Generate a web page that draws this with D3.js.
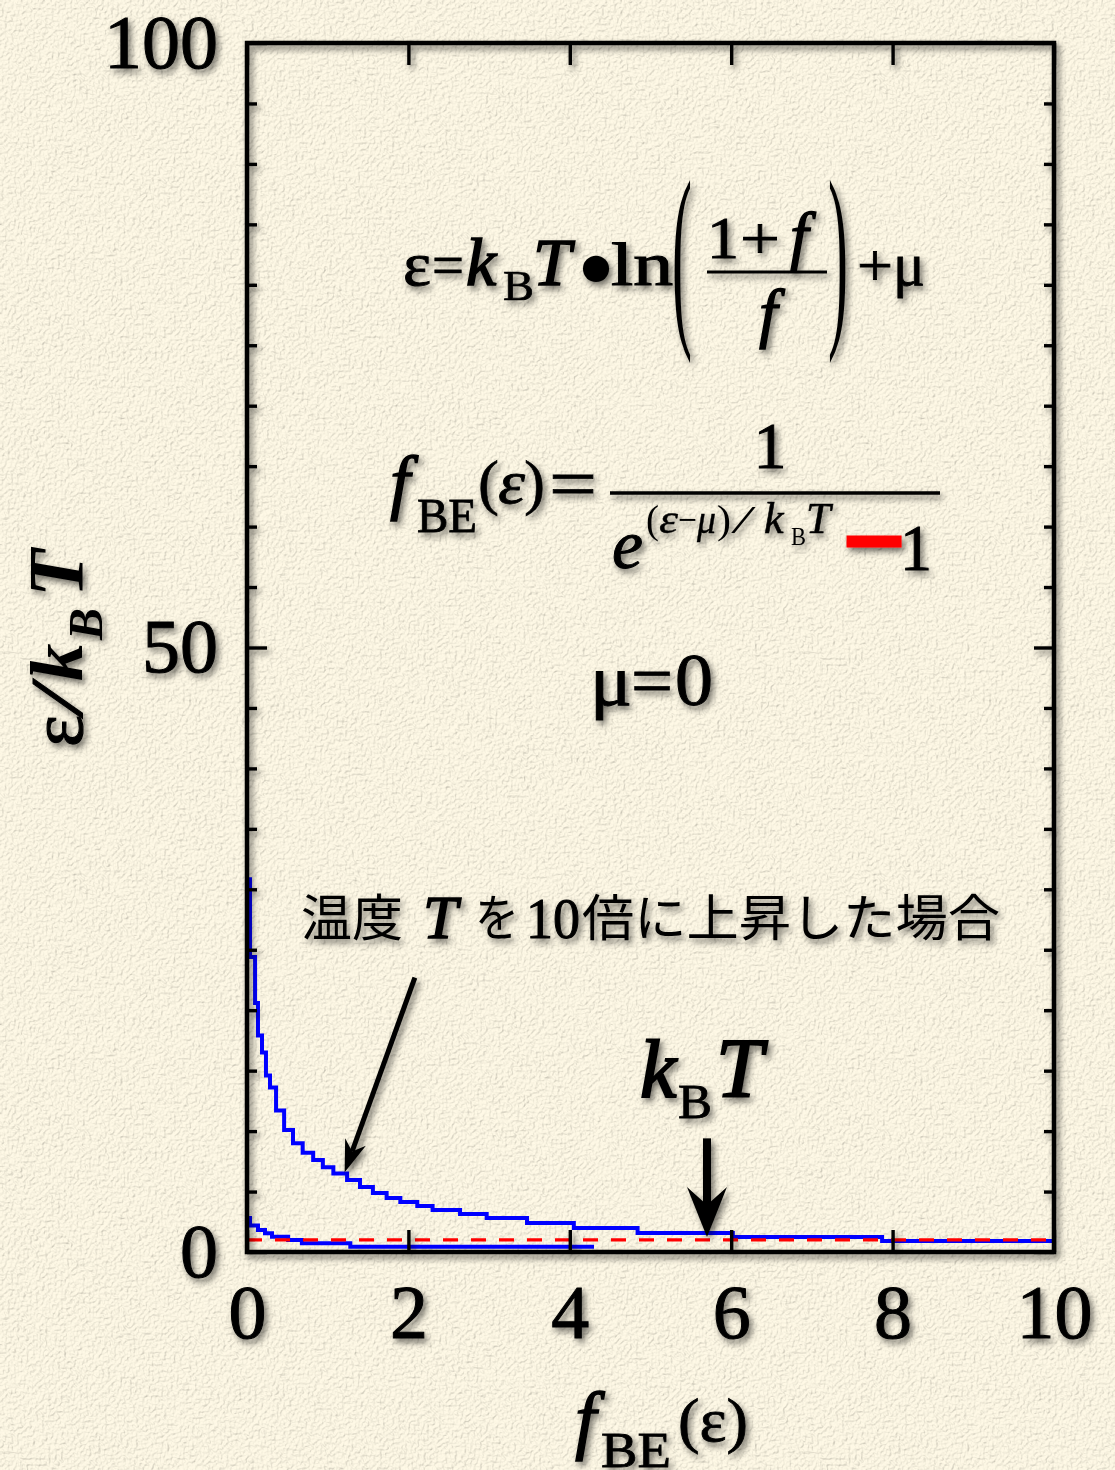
<!DOCTYPE html>
<html>
<head>
<meta charset="utf-8">
<script src="https://cdn.jsdelivr.net/npm/d3@7"></script>
<style>
  body { margin: 0; background: #f2ebd6; }
  svg { display: block; }
</style>
</head>
<body>
<div class="container-viewer"></div>
<script>
//* DATOS LEIDOS DE LA FIGURA *//
// curva escalonada con T x10: [f, eps/kBT] = inicio de cada tramo horizontal
const hotF = [0.037, 0.037, 0.10, 0.136, 0.186, 0.235, 0.285, 0.36, 0.46, 0.57, 0.69, 0.82, 0.94, 1.07,
  1.24, 1.40, 1.56, 1.73, 1.90, 2.11, 2.30, 2.64, 2.97, 3.47, 4.05, 4.84, 6.02, 7.87, 10.0];
const hotE = [31.0, 24.4, 20.6, 17.9, 16.5, 14.6, 13.6, 11.7, 10.1, 9.0, 8.2, 7.6, 7.0, 6.5,
  5.96, 5.38, 4.88, 4.47, 4.14, 3.80, 3.47, 3.14, 2.81, 2.40, 1.99, 1.57, 1.24, 0.91, 0.91];
// curva original (mu = 0)
const baseF = [0.037, 0.037, 0.136, 0.223, 0.31, 0.51, 0.68, 1.28, 4.30];
const baseE = [2.98, 2.20, 1.82, 1.55, 1.27, 0.99, 0.72, 0.44, 0.44];
// linea kBT (eps/kBT = 1)
const kTLevel = 1;

// ejes y etiquetas
const xTicks = [0, 2, 4, 6, 8, 10];
const yMajor = [0, 50, 100];
const yMinor = [5, 10, 15, 20, 25, 30, 35, 40, 45, 55, 60, 65, 70, 75, 80, 85, 90, 95];

// flechas (coordenadas en unidades de datos)
const arrowHot = { from: [2.08, 22.7], to: [1.21, 6.6] };
const arrowKT = { from: [5.7, 9.4], to: [5.7, 1.24] };

//-------------

const W = 1115, H = 1470;
const SERIF = "'Liberation Serif', 'Times New Roman', serif";
const CJK = "'Noto Sans CJK JP', sans-serif";

const x = d3.scaleLinear().domain([0, 10]).range([247, 1054]);
const y = d3.scaleLinear().domain([0, 100]).range([1252, 43]);

const svg = d3.select('.container-viewer').append('svg').attr('width', W).attr('height', H);
const defs = svg.append('defs');

// textura de papel
const paper = defs.append('filter').attr('id', 'paper').attr('x', 0).attr('y', 0).attr('width', '100%').attr('height', '100%');
paper.append('feTurbulence').attr('type', 'fractalNoise').attr('baseFrequency', 0.32).attr('numOctaves', 4).attr('seed', 7).attr('result', 'noise');
const light = paper.append('feDiffuseLighting').attr('in', 'noise').attr('lighting-color', '#fff9e6').attr('surfaceScale', 1.5).attr('result', 'lit');
light.append('feDistantLight').attr('azimuth', 225).attr('elevation', 74);

// sombra para textos y marco
const shadow = defs.append('filter').attr('id', 'shadow').attr('x', '-20%').attr('y', '-20%').attr('width', '140%').attr('height', '140%');
shadow.append('feDropShadow').attr('dx', 3).attr('dy', 4).attr('stdDeviation', 3.2).attr('flood-color', '#000').attr('flood-opacity', 0.55);

defs.append('clipPath').attr('id', 'plot').append('rect')
  .attr('x', x(0)).attr('y', y(100)).attr('width', x(10) - x(0)).attr('height', y(0) - y(100));

svg.append('rect').attr('width', W).attr('height', H).attr('fill', '#f2ebd6');
svg.append('rect').attr('width', W).attr('height', H).attr('filter', 'url(#paper)');

//* CURVAS *//
const line = d3.line().x((d) => x(d[0])).y((d) => y(d[1])).curve(d3.curveStepAfter);
const curves = svg.append('g').attr('clip-path', 'url(#plot)');

curves.append('path').datum(hotF.map((f, i) => [f, hotE[i]]))
  .attr('d', line).attr('fill', 'none').attr('stroke', '#0000ff').attr('stroke-width', 4);
curves.append('path').datum(baseF.map((f, i) => [f, baseE[i]]))
  .attr('d', line).attr('fill', 'none').attr('stroke', '#0000ff').attr('stroke-width', 4);
curves.append('line')
  .attr('x1', x(0)).attr('x2', x(10)).attr('y1', y(kTLevel)).attr('y2', y(kTLevel))
  .attr('stroke', '#ff0000').attr('stroke-width', 3.4).attr('stroke-dasharray', '15,13');

//* MARCO Y EJES *//
const frame = svg.append('g').attr('filter', 'url(#shadow)');

function styleAxis(g) {
  g.select('.domain').remove();
  g.selectAll('.tick line').attr('stroke', '#000').attr('stroke-width', 3.4);
  g.selectAll('.tick text').attr('font-family', SERIF).attr('font-size', 76).attr('fill', '#000')
    .attr('stroke', '#000').attr('stroke-width', 1);
}

frame.append('g').attr('transform', `translate(0,${y(0)})`)
  .call(d3.axisBottom(x).tickValues(xTicks).tickSize(-22).tickPadding(32).tickFormat(d3.format('d')))
  .call(styleAxis);
frame.append('g').attr('transform', `translate(0,${y(100)})`)
  .call(d3.axisTop(x).tickValues(xTicks).tickSize(-22).tickFormat(''))
  .call(styleAxis);
frame.append('g').attr('transform', `translate(${x(0)},0)`)
  .call(d3.axisLeft(y).tickValues(yMajor).tickSize(-20).tickPadding(29).tickFormat(d3.format('d')))
  .call(styleAxis);
frame.append('g').attr('transform', `translate(${x(0)},0)`)
  .call(d3.axisLeft(y).tickValues(yMinor).tickSize(-10).tickFormat(''))
  .call(styleAxis);
frame.append('g').attr('transform', `translate(${x(10)},0)`)
  .call(d3.axisRight(y).tickValues(yMajor).tickSize(-20).tickFormat(''))
  .call(styleAxis);
frame.append('g').attr('transform', `translate(${x(10)},0)`)
  .call(d3.axisRight(y).tickValues(yMinor).tickSize(-10).tickFormat(''))
  .call(styleAxis);

frame.append('rect')
  .attr('x', x(0)).attr('y', y(100)).attr('width', x(10) - x(0)).attr('height', y(0) - y(100))
  .attr('fill', 'none').attr('stroke', '#000').attr('stroke-width', 4.5);

//* TEXTOS *//
const txt = svg.append('g').attr('filter', 'url(#shadow)');

// pieza de texto: cadena, x, y, tamaño, opciones
function put(parent, str, px, py, size, o = {}) {
  const t = parent.append('text')
    .attr('x', px).attr('y', py)
    .attr('font-family', o.family || SERIF)
    .attr('font-size', size)
    .attr('font-style', o.i ? 'italic' : 'normal')
    .attr('font-weight', o.b ? 'bold' : 'normal')
    .attr('fill', o.fill || '#000')
    .attr('text-anchor', o.anchor || 'start')
    .text(str);
  if (o.len) t.attr('textLength', o.len).attr('lengthAdjust', 'spacingAndGlyphs');
  if (o.sw) t.attr('stroke', o.fill || '#000').attr('stroke-width', o.sw);
  return t;
}
function paren(parent, str, px, py, size, sy) {
  parent.append('text').attr('transform', `translate(${px},${py}) scale(1,${sy})`)
    .attr('font-family', SERIF).attr('font-size', size).text(str);
}

// ecuacion 1: eps = kBT . ln((1+f)/f) + mu
put(txt, 'ε', 403, 285, 62, { len: 28, sw: 1 });
put(txt, '=', 432, 285, 60, { len: 32, sw: 0.8 });
put(txt, 'k', 466, 285, 68, { i: 1, sw: 1.6 });
put(txt, 'B', 503, 300, 42, { len: 31, sw: 0.7 });
put(txt, 'T', 533, 285, 68, { i: 1, sw: 1.6 });
put(txt, '•', 596, 305, 110, { anchor: 'middle' });
put(txt, 'ln', 611, 285, 62, { len: 62, sw: 1.2 });
paren(txt, '(', 672, 320, 60, 3.35);
put(txt, '1', 707, 258, 60, { len: 32, sw: 1 });
put(txt, '+', 740, 258, 60, { len: 40, sw: 0.8 });
put(txt, 'f', 790, 258, 66, { i: 1, sw: 1.4 });
txt.append('line').attr('x1', 707).attr('x2', 827).attr('y1', 272).attr('y2', 272).attr('stroke', '#000').attr('stroke-width', 3);
put(txt, 'f', 759, 335, 66, { i: 1, sw: 1.4 });
paren(txt, ')', 828, 320, 60, 3.35);
put(txt, '+', 857, 285, 60, { len: 36, sw: 0.8 });
put(txt, 'μ', 893, 285, 62, { len: 32, sw: 0.8 });

// ecuacion 2: fBE(eps) = 1 / (e^((eps-mu)/kBT) - 1)
put(txt, 'f', 390, 506, 72, { i: 1, sw: 1.4 });
put(txt, 'BE', 417, 532, 48, { len: 60, sw: 0.8 });
put(txt, '(', 478, 503, 62, { len: 21, sw: 0.6 });
put(txt, 'ε', 498, 503, 62, { i: 1, len: 27, sw: 0.8 });
put(txt, ')', 524, 503, 62, { len: 21, sw: 0.6 });
put(txt, '=', 549, 508, 72, { len: 48, sw: 0.8 });
txt.append('line').attr('x1', 610).attr('x2', 940).attr('y1', 493).attr('y2', 493).attr('stroke', '#000').attr('stroke-width', 3.5);
put(txt, '1', 770, 468, 66, { anchor: 'middle', sw: 1 });
put(txt, 'e', 612, 568, 70, { i: 1, sw: 1 });
put(txt, '(', 646, 533, 40, { len: 13 });
put(txt, 'ε', 659, 533, 40, { i: 1, len: 19, sw: 0.4 });
put(txt, '−', 678, 533, 40, { len: 19 });
put(txt, 'μ', 697, 533, 40, { i: 1, len: 19, sw: 0.4 });
put(txt, ')', 717, 533, 40, { len: 14 });
put(txt, '/', 734, 533, 40, { i: 1, len: 17 });
put(txt, 'k', 764, 533, 44, { i: 1, sw: 0.6 });
put(txt, 'B', 791, 545, 26, { len: 15 });
put(txt, 'T', 806, 533, 44, { i: 1, sw: 0.6 });
put(txt, '−', 845, 575, 100, { len: 58, fill: '#ff0000', sw: 7 });
put(txt, '1', 900, 570, 66, { len: 32, sw: 1 });

// mu = 0
put(txt, 'μ', 590, 705, 72, { len: 42, sw: 1 });
put(txt, '=', 631, 705, 72, { len: 42, sw: 0.8 });
put(txt, '0', 675, 705, 74, { len: 38, sw: 1 });

// anotacion en japones
put(txt, '温度', 301, 936, 50, { family: CJK, len: 102 });
put(txt, 'T', 423, 938, 62, { i: 1, sw: 1.6 });
put(txt, 'を', 475, 936, 50, { family: CJK, len: 44 });
put(txt, '10', 526, 938, 58, { len: 54, sw: 1 });
put(txt, '倍に上昇した場合', 582, 936, 50, { family: CJK, len: 418 });

// etiqueta kBT
put(txt, 'k', 640, 1097, 82, { i: 1, sw: 2 });
put(txt, 'B', 678, 1118, 48, { len: 34, sw: 0.8 });
put(txt, 'T', 716, 1097, 84, { i: 1, sw: 2 });

// etiqueta eje y (girada)
const yl = txt.append('g').attr('transform', 'translate(82,747) rotate(-90)');
put(yl, 'ε', 0, 0, 75, { len: 32, sw: 1.2 });
put(yl, '/', 33, 0, 75, { i: 1, len: 28, sw: 0.8 });
put(yl, 'k', 66, 0, 75, { i: 1, b: 1 });
put(yl, 'B', 107, 20, 48, { i: 1, b: 1 });
put(yl, 'T', 150, 0, 78, { i: 1, b: 1 });

// etiqueta eje x
put(txt, 'f', 575, 1445, 76, { i: 1, sw: 1.4 });
put(txt, 'BE', 601, 1467, 50, { len: 70, sw: 0.8 });
put(txt, '(ε)', 678, 1441, 62, { len: 70, sw: 0.8 });

//* FLECHAS *//
function arrow(parent, a, o) {
  const x1 = x(a.from[0]), y1 = y(a.from[1]), x2 = x(a.to[0]), y2 = y(a.to[1]);
  const L = Math.hypot(x2 - x1, y2 - y1), ux = (x2 - x1) / L, uy = (y2 - y1) / L;
  const px = -uy, py = ux;
  const bx = x2 - ux * o.back, by = y2 - uy * o.back;
  parent.append('line').attr('x1', x1).attr('y1', y1).attr('x2', bx).attr('y2', by)
    .attr('stroke', '#000').attr('stroke-width', o.width);
  const wx = x2 - ux * o.head, wy = y2 - uy * o.head;
  parent.append('path')
    .attr('d', `M${x2},${y2}L${wx + px * o.half},${wy + py * o.half}L${bx},${by}L${wx - px * o.half},${wy - py * o.half}Z`)
    .attr('fill', '#000');
}
arrow(txt, arrowHot, { width: 5, head: 32, half: 11, back: 22 });
arrow(txt, arrowKT, { width: 8, head: 50, half: 20, back: 32 });
</script>
</body>
</html>
